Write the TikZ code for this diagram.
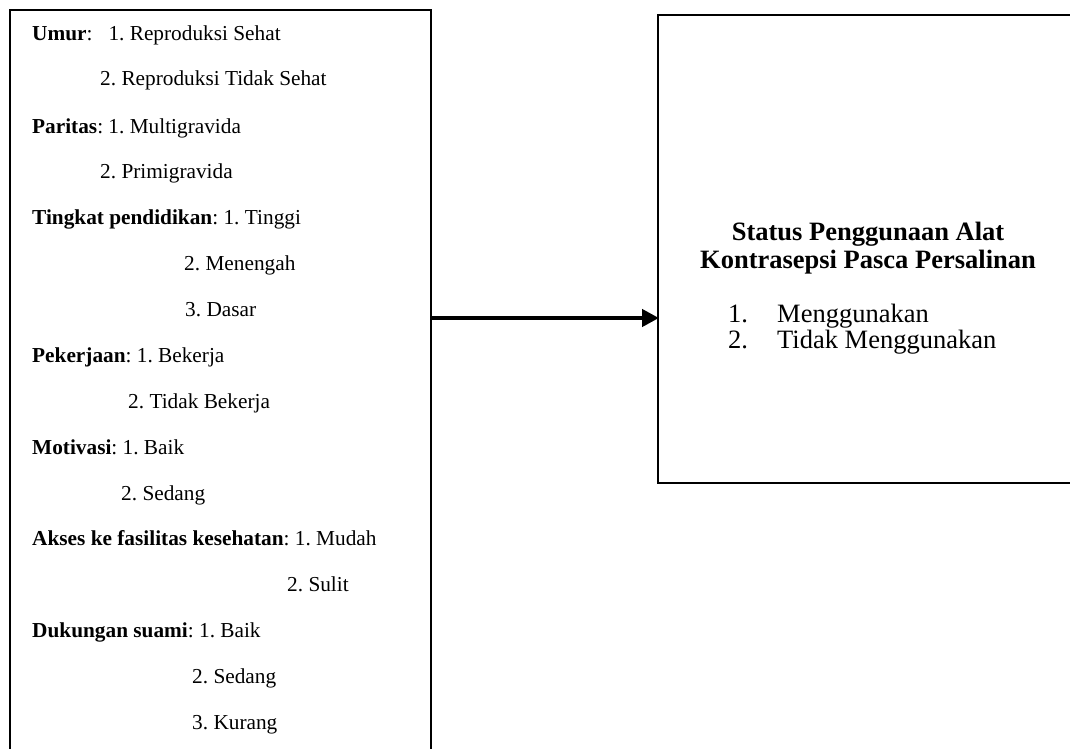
\documentclass[tikz,border=0pt]{standalone}
\usepackage{fontspec}
\setmainfont{Liberation Serif}
\usetikzlibrary{arrows.meta}
\frenchspacing
\begin{document}
\begin{tikzpicture}[x=1pt,y=-1pt,
  boxline/.style={line width=2.6pt,black},
  lefttxt/.style={anchor=base west,inner sep=0pt,font=\frenchspacing\fontsize{21.3}{24}\selectfont},
  titletxt/.style={anchor=base,inner sep=0pt,font=\fontsize{26.5}{30}\selectfont\bfseries},
  listtxt/.style={anchor=base west,inner sep=0pt,font=\fontsize{26.5}{30}\selectfont},
  mainarrow/.style={line width=4.8pt,-{Triangle[length=17pt,width=17pt]}}]
\useasboundingbox (0,0) rectangle (1070,749);
% left box (open at bottom)
\draw[boxline] (10,760) -- (10,10) -- (431,10) -- (431,760);
% right box (open at right)
\draw[boxline] (1080,15) -- (658,15) -- (658,483) -- (1080,483);
% left texts
\node[lefttxt] (t1) at (32,41) {\textbf{Umur}:\ \ \ 1. Reproduksi Sehat};
\node[lefttxt] (t2) at (100,86) {2. Reproduksi Tidak Sehat};
\node[lefttxt] (t3) at (32,133) {\textbf{Paritas}: 1. Multigravida};
\node[lefttxt] (t4) at (100,178.5) {2. Primigravida};
\node[lefttxt] (t5) at (32,224) {\textbf{Tingkat pendidikan}: 1. Tinggi};
\node[lefttxt] (t6) at (184,270) {2. Menengah};
\node[lefttxt] (t7) at (185,316) {3. Dasar};
\node[lefttxt] (t8) at (32,362) {\textbf{Pekerjaan}: 1. Bekerja};
\node[lefttxt] (t9) at (128,408) {2. Tidak Bekerja};
\node[lefttxt] (t10) at (32,454) {\textbf{Motivasi}: 1. Baik};
\node[lefttxt] (t11) at (121,500) {2. Sedang};
\node[lefttxt] (t12) at (32,545.5) {\textbf{Akses ke fasilitas kesehatan}: 1. Mudah};
\node[lefttxt] (t13) at (287,591.5) {2. Sulit};
\node[lefttxt] (t14) at (32,637) {\textbf{Dukungan suami}: 1. Baik};
\node[lefttxt] (t15) at (192,683) {2. Sedang};
\node[lefttxt] (t16) at (192,729) {3. Kurang};
% right texts
\node[titletxt] (h1) at (868,240) {Status Penggunaan Alat};
\node[titletxt] (h2) at (868,268) {Kontrasepsi Pasca Persalinan};
\node[listtxt] (n1) at (728,322) {1.};
\node[listtxt] (i1) at (777,322) {Menggunakan};
\node[listtxt] (n2) at (728,348) {2.};
\node[listtxt] (i2) at (777,348) {Tidak Menggunakan};
% arrow
\coordinate (lbox) at (432,318);
\coordinate (rbox) at (659,318);
\draw[mainarrow] (lbox) -- (rbox);
\end{tikzpicture}
\end{document}
